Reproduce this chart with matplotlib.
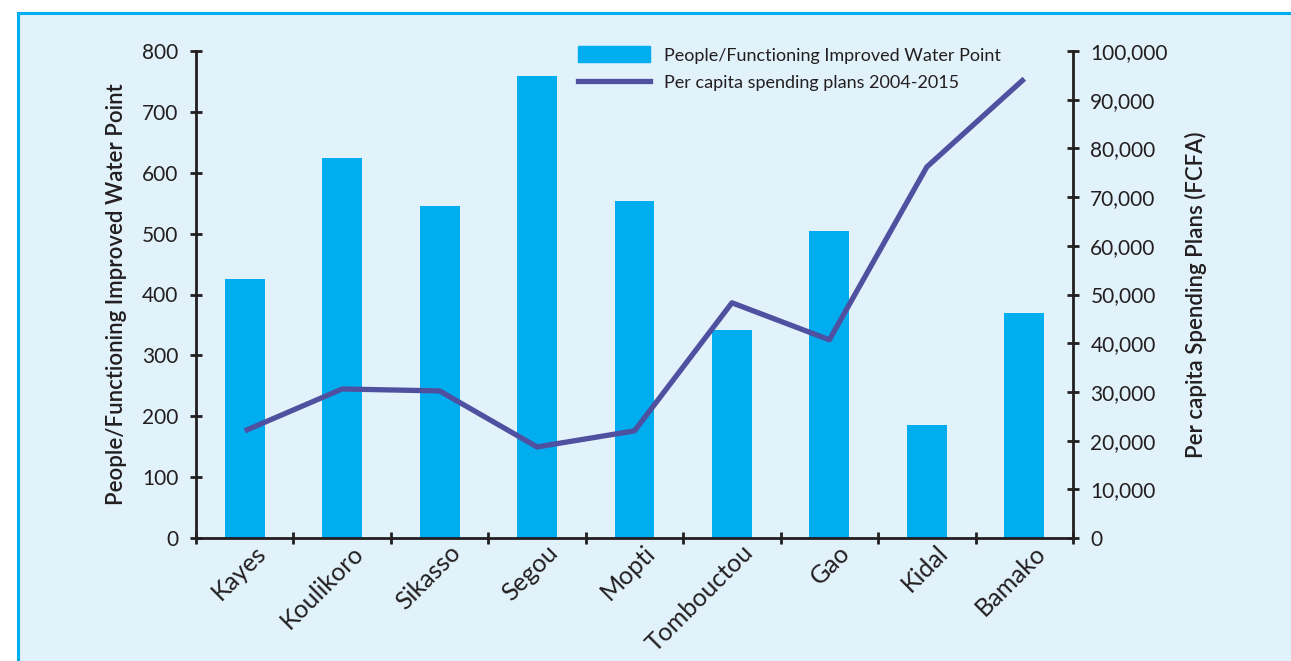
import matplotlib.pyplot as plt
import matplotlib.patches as mpatches
from matplotlib.lines import Line2D
from matplotlib.ticker import FuncFormatter, FixedLocator
from matplotlib.transforms import ScaledTranslation
import numpy as np

regions = ["Kayes", "Koulikoro", "Sikasso", "Segou", "Mopti",
           "Tombouctou", "Gao", "Kidal", "Bamako"]
people_per_point = [425, 624, 545, 759, 553, 342, 504, 186, 370]
spending_per_capita = [22000, 30600, 30200, 18700, 22000, 48300, 40700, 76200, 94300]

bg = "#e1f2fa"
bar_color = "#00adee"
line_color = "#5050a0"
ink = "#231f20"

plt.rcParams["font.family"] = ["Lato", "DejaVu Sans"]

fig = plt.figure(figsize=(12.91, 6.61), dpi=100)
fig.patch.set_facecolor("white")

# panel frame behind everything
back = fig.add_axes([0, 0, 1, 1], zorder=-10)
back.set_axis_off()
back.set_xlim(0, 1291)
back.set_ylim(661, 0)
back.add_patch(mpatches.Rectangle((18, 13), 1400, 800, facecolor=bg,
                                  edgecolor="#00aeef", linewidth=2.2))

ax = fig.add_axes([196 / 1291, 1 - 538 / 661, (1073 - 196) / 1291, (538 - 51) / 661])
ax.set_facecolor("none")
ax2 = ax.twinx()

x = np.arange(len(regions))
ax.bar(x, people_per_point, width=0.41, color=bar_color, zorder=2)
ax2.plot(x, spending_per_capita, color=line_color, linewidth=3.8,
         solid_capstyle="butt", zorder=3)

ax.set_xlim(-0.5, len(regions) - 0.5)
ax.set_ylim(0, 800)
ax2.set_ylim(0, 100000)

for a in (ax, ax2):
    a.spines["top"].set_visible(False)
    for s in a.spines.values():
        s.set_linewidth(2)
        s.set_color(ink)
ax.spines["right"].set_visible(False)
ax2.spines["left"].set_visible(False)
ax2.spines["bottom"].set_visible(False)

ax.set_yticks(np.arange(0, 801, 100))
ax2.set_yticks(np.arange(0, 100001, 10000))
ax2.yaxis.set_major_formatter(FuncFormatter(lambda v, p: f"{int(v):,}"))

ax.xaxis.set_major_locator(FixedLocator(np.arange(-0.5, len(regions), 1.0)))
ax.xaxis.set_minor_locator(FixedLocator(x))
ax.set_xticklabels([])
ax.set_xticklabels(regions, minor=True, rotation=45, ha="right",
                   rotation_mode="anchor")

ax.tick_params(axis="x", which="major", direction="inout", length=9, width=2, color=ink)
ax.tick_params(axis="x", which="minor", length=0, pad=2, labelsize=18, labelcolor=ink)
ax.tick_params(axis="y", direction="inout", length=9, width=2, color=ink,
               labelsize=15, labelcolor=ink, pad=8)
ax2.tick_params(axis="y", direction="inout", length=9, width=2, color=ink,
                labelsize=15, labelcolor=ink, pad=8)

# nudge the slanted region names to the right
for lbl in ax.get_xticklabels(minor=True):
    lbl.set_transform(lbl.get_transform() + ScaledTranslation(9 / 100, 0, fig.dpi_scale_trans))

ax.set_ylabel("People/Functioning Improved Water Point", fontsize=16,
              fontweight="semibold", color=ink, labelpad=11)
ax2.set_ylabel("Per capita Spending Plans (FCFA)", fontsize=16,
               fontweight="semibold", color=ink, labelpad=12)

handles = [mpatches.Patch(color=bar_color),
           Line2D([], [], color=line_color, linewidth=3.8)]
labels = ["People/Functioning Improved Water Point",
          "Per capita spending plans 2004-2015"]
fig.legend(handles, labels, loc="upper left",
           bbox_to_anchor=(562 / 1291, 1 - 30 / 661), frameon=False,
           fontsize=13, handlelength=4.0, handleheight=1.0, handletextpad=0.75,
           labelspacing=0.55, labelcolor=ink)

fig.savefig("out.png", dpi=100, facecolor=fig.get_facecolor())
